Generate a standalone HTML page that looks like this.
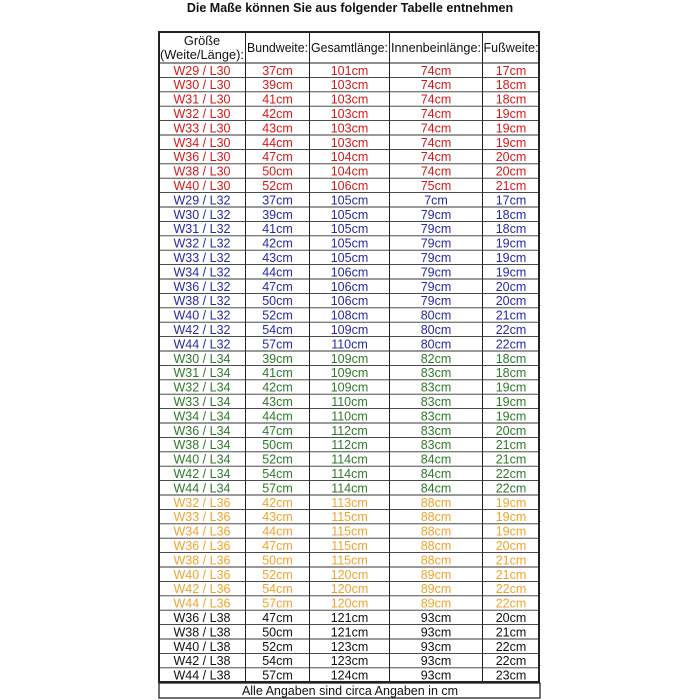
<!DOCTYPE html>
<html><head><meta charset="utf-8"><style>
html,body{margin:0;padding:0;background:#fff;width:700px;height:700px;overflow:hidden}
svg{display:block}
text{font-family:"Liberation Sans",Arial,sans-serif;font-size:12.5px;text-anchor:middle}
.h text{font-size:12.8px}
.r{fill:#d81818}.b{fill:#2828a8}.g{fill:#2f7a2a}.o{fill:#f0a42c}.k{fill:#111}
</style></head><body>
<svg width="700" height="700" viewBox="0 0 700 700" xmlns="http://www.w3.org/2000/svg">
<text x="350" y="12" style="font-weight:bold;font-size:12.5px" class="k">Die Maße können Sie aus folgender Tabelle entnehmen</text>
<g stroke="#222" stroke-width="1">
<line x1="159" y1="63" x2="539" y2="63"/>
<line x1="245.5" y1="32" x2="245.5" y2="682"/>
<line x1="309.5" y1="32" x2="309.5" y2="682"/>
<line x1="389.5" y1="32" x2="389.5" y2="682"/>
<line x1="482.5" y1="32" x2="482.5" y2="682"/>
</g>
<g stroke="#333" stroke-width="0.9">
<line x1="159" y1="77.4" x2="539" y2="77.4"/><line x1="159" y1="91.8" x2="539" y2="91.8"/><line x1="159" y1="106.2" x2="539" y2="106.2"/><line x1="159" y1="120.6" x2="539" y2="120.6"/><line x1="159" y1="135" x2="539" y2="135"/><line x1="159" y1="149.4" x2="539" y2="149.4"/><line x1="159" y1="163.8" x2="539" y2="163.8"/><line x1="159" y1="178.2" x2="539" y2="178.2"/><line x1="159" y1="192.6" x2="539" y2="192.6"/><line x1="159" y1="207" x2="539" y2="207"/><line x1="159" y1="221.4" x2="539" y2="221.4"/><line x1="159" y1="235.8" x2="539" y2="235.8"/><line x1="159" y1="250.2" x2="539" y2="250.2"/><line x1="159" y1="264.6" x2="539" y2="264.6"/><line x1="159" y1="279" x2="539" y2="279"/><line x1="159" y1="293.4" x2="539" y2="293.4"/><line x1="159" y1="307.8" x2="539" y2="307.8"/><line x1="159" y1="322.2" x2="539" y2="322.2"/><line x1="159" y1="336.6" x2="539" y2="336.6"/><line x1="159" y1="351" x2="539" y2="351"/><line x1="159" y1="365.4" x2="539" y2="365.4"/><line x1="159" y1="379.8" x2="539" y2="379.8"/><line x1="159" y1="394.2" x2="539" y2="394.2"/><line x1="159" y1="408.6" x2="539" y2="408.6"/><line x1="159" y1="423" x2="539" y2="423"/><line x1="159" y1="437.4" x2="539" y2="437.4"/><line x1="159" y1="451.8" x2="539" y2="451.8"/><line x1="159" y1="466.2" x2="539" y2="466.2"/><line x1="159" y1="480.6" x2="539" y2="480.6"/><line x1="159" y1="495" x2="539" y2="495"/><line x1="159" y1="509.4" x2="539" y2="509.4"/><line x1="159" y1="523.8" x2="539" y2="523.8"/><line x1="159" y1="538.2" x2="539" y2="538.2"/><line x1="159" y1="552.6" x2="539" y2="552.6"/><line x1="159" y1="567" x2="539" y2="567"/><line x1="159" y1="581.4" x2="539" y2="581.4"/><line x1="159" y1="595.8" x2="539" y2="595.8"/><line x1="159" y1="610.2" x2="539" y2="610.2"/><line x1="159" y1="624.6" x2="539" y2="624.6"/><line x1="159" y1="639" x2="539" y2="639"/><line x1="159" y1="653.4" x2="539" y2="653.4"/><line x1="159" y1="667.8" x2="539" y2="667.8"/>
</g>
<rect x="159" y="32" width="380" height="650" fill="none" stroke="#222" stroke-width="2"/>
<rect x="159" y="683" width="381" height="15" fill="none" stroke="#222" stroke-width="1.3"/>
<text x="350" y="695" class="k">Alle Angaben sind circa Angaben in cm</text>
<g class="k h">
<text x="202" y="45">Größe</text><text x="202" y="59" textLength="84" lengthAdjust="spacingAndGlyphs">(Weite/Länge):</text>
<text x="277.5" y="52" textLength="61" lengthAdjust="spacingAndGlyphs">Bundweite:</text><text x="349.5" y="52" textLength="77" lengthAdjust="spacingAndGlyphs">Gesamtlänge:</text><text x="436" y="52" textLength="90" lengthAdjust="spacingAndGlyphs">Innenbeinlänge:</text><text x="511" y="52" textLength="55" lengthAdjust="spacingAndGlyphs">Fußweite:</text>
</g>
<g class="r">
<text x="202" y="74.8">W29 / L30</text><text x="277.5" y="74.8">37cm</text><text x="349.5" y="74.8">101cm</text><text x="436" y="74.8">74cm</text><text x="511" y="74.8">17cm</text>
<text x="202" y="89.2">W30 / L30</text><text x="277.5" y="89.2">39cm</text><text x="349.5" y="89.2">103cm</text><text x="436" y="89.2">74cm</text><text x="511" y="89.2">18cm</text>
<text x="202" y="103.6">W31 / L30</text><text x="277.5" y="103.6">41cm</text><text x="349.5" y="103.6">103cm</text><text x="436" y="103.6">74cm</text><text x="511" y="103.6">18cm</text>
<text x="202" y="118">W32 / L30</text><text x="277.5" y="118">42cm</text><text x="349.5" y="118">103cm</text><text x="436" y="118">74cm</text><text x="511" y="118">19cm</text>
<text x="202" y="132.4">W33 / L30</text><text x="277.5" y="132.4">43cm</text><text x="349.5" y="132.4">103cm</text><text x="436" y="132.4">74cm</text><text x="511" y="132.4">19cm</text>
<text x="202" y="146.8">W34 / L30</text><text x="277.5" y="146.8">44cm</text><text x="349.5" y="146.8">103cm</text><text x="436" y="146.8">74cm</text><text x="511" y="146.8">19cm</text>
<text x="202" y="161.2">W36 / L30</text><text x="277.5" y="161.2">47cm</text><text x="349.5" y="161.2">104cm</text><text x="436" y="161.2">74cm</text><text x="511" y="161.2">20cm</text>
<text x="202" y="175.6">W38 / L30</text><text x="277.5" y="175.6">50cm</text><text x="349.5" y="175.6">104cm</text><text x="436" y="175.6">74cm</text><text x="511" y="175.6">20cm</text>
<text x="202" y="190">W40 / L30</text><text x="277.5" y="190">52cm</text><text x="349.5" y="190">106cm</text><text x="436" y="190">75cm</text><text x="511" y="190">21cm</text>
</g>
<g class="b">
<text x="202" y="204.4">W29 / L32</text><text x="277.5" y="204.4">37cm</text><text x="349.5" y="204.4">105cm</text><text x="436" y="204.4">7cm</text><text x="511" y="204.4">17cm</text>
<text x="202" y="218.8">W30 / L32</text><text x="277.5" y="218.8">39cm</text><text x="349.5" y="218.8">105cm</text><text x="436" y="218.8">79cm</text><text x="511" y="218.8">18cm</text>
<text x="202" y="233.2">W31 / L32</text><text x="277.5" y="233.2">41cm</text><text x="349.5" y="233.2">105cm</text><text x="436" y="233.2">79cm</text><text x="511" y="233.2">18cm</text>
<text x="202" y="247.6">W32 / L32</text><text x="277.5" y="247.6">42cm</text><text x="349.5" y="247.6">105cm</text><text x="436" y="247.6">79cm</text><text x="511" y="247.6">19cm</text>
<text x="202" y="262">W33 / L32</text><text x="277.5" y="262">43cm</text><text x="349.5" y="262">105cm</text><text x="436" y="262">79cm</text><text x="511" y="262">19cm</text>
<text x="202" y="276.4">W34 / L32</text><text x="277.5" y="276.4">44cm</text><text x="349.5" y="276.4">106cm</text><text x="436" y="276.4">79cm</text><text x="511" y="276.4">19cm</text>
<text x="202" y="290.8">W36 / L32</text><text x="277.5" y="290.8">47cm</text><text x="349.5" y="290.8">106cm</text><text x="436" y="290.8">79cm</text><text x="511" y="290.8">20cm</text>
<text x="202" y="305.2">W38 / L32</text><text x="277.5" y="305.2">50cm</text><text x="349.5" y="305.2">106cm</text><text x="436" y="305.2">79cm</text><text x="511" y="305.2">20cm</text>
<text x="202" y="319.6">W40 / L32</text><text x="277.5" y="319.6">52cm</text><text x="349.5" y="319.6">108cm</text><text x="436" y="319.6">80cm</text><text x="511" y="319.6">21cm</text>
<text x="202" y="334">W42 / L32</text><text x="277.5" y="334">54cm</text><text x="349.5" y="334">109cm</text><text x="436" y="334">80cm</text><text x="511" y="334">22cm</text>
<text x="202" y="348.4">W44 / L32</text><text x="277.5" y="348.4">57cm</text><text x="349.5" y="348.4">110cm</text><text x="436" y="348.4">80cm</text><text x="511" y="348.4">22cm</text>
</g>
<g class="g">
<text x="202" y="362.8">W30 / L34</text><text x="277.5" y="362.8">39cm</text><text x="349.5" y="362.8">109cm</text><text x="436" y="362.8">82cm</text><text x="511" y="362.8">18cm</text>
<text x="202" y="377.2">W31 / L34</text><text x="277.5" y="377.2">41cm</text><text x="349.5" y="377.2">109cm</text><text x="436" y="377.2">83cm</text><text x="511" y="377.2">18cm</text>
<text x="202" y="391.6">W32 / L34</text><text x="277.5" y="391.6">42cm</text><text x="349.5" y="391.6">109cm</text><text x="436" y="391.6">83cm</text><text x="511" y="391.6">19cm</text>
<text x="202" y="406">W33 / L34</text><text x="277.5" y="406">43cm</text><text x="349.5" y="406">110cm</text><text x="436" y="406">83cm</text><text x="511" y="406">19cm</text>
<text x="202" y="420.4">W34 / L34</text><text x="277.5" y="420.4">44cm</text><text x="349.5" y="420.4">110cm</text><text x="436" y="420.4">83cm</text><text x="511" y="420.4">19cm</text>
<text x="202" y="434.8">W36 / L34</text><text x="277.5" y="434.8">47cm</text><text x="349.5" y="434.8">112cm</text><text x="436" y="434.8">83cm</text><text x="511" y="434.8">20cm</text>
<text x="202" y="449.2">W38 / L34</text><text x="277.5" y="449.2">50cm</text><text x="349.5" y="449.2">112cm</text><text x="436" y="449.2">83cm</text><text x="511" y="449.2">21cm</text>
<text x="202" y="463.6">W40 / L34</text><text x="277.5" y="463.6">52cm</text><text x="349.5" y="463.6">114cm</text><text x="436" y="463.6">84cm</text><text x="511" y="463.6">21cm</text>
<text x="202" y="478">W42 / L34</text><text x="277.5" y="478">54cm</text><text x="349.5" y="478">114cm</text><text x="436" y="478">84cm</text><text x="511" y="478">22cm</text>
<text x="202" y="492.4">W44 / L34</text><text x="277.5" y="492.4">57cm</text><text x="349.5" y="492.4">114cm</text><text x="436" y="492.4">84cm</text><text x="511" y="492.4">22cm</text>
</g>
<g class="o">
<text x="202" y="506.8">W32 / L36</text><text x="277.5" y="506.8">42cm</text><text x="349.5" y="506.8">113cm</text><text x="436" y="506.8">88cm</text><text x="511" y="506.8">19cm</text>
<text x="202" y="521.2">W33 / L36</text><text x="277.5" y="521.2">43cm</text><text x="349.5" y="521.2">115cm</text><text x="436" y="521.2">88cm</text><text x="511" y="521.2">19cm</text>
<text x="202" y="535.6">W34 / L36</text><text x="277.5" y="535.6">44cm</text><text x="349.5" y="535.6">115cm</text><text x="436" y="535.6">88cm</text><text x="511" y="535.6">19cm</text>
<text x="202" y="550">W36 / L36</text><text x="277.5" y="550">47cm</text><text x="349.5" y="550">115cm</text><text x="436" y="550">88cm</text><text x="511" y="550">20cm</text>
<text x="202" y="564.4">W38 / L36</text><text x="277.5" y="564.4">50cm</text><text x="349.5" y="564.4">115cm</text><text x="436" y="564.4">88cm</text><text x="511" y="564.4">21cm</text>
<text x="202" y="578.8">W40 / L36</text><text x="277.5" y="578.8">52cm</text><text x="349.5" y="578.8">120cm</text><text x="436" y="578.8">89cm</text><text x="511" y="578.8">21cm</text>
<text x="202" y="593.2">W42 / L36</text><text x="277.5" y="593.2">54cm</text><text x="349.5" y="593.2">120cm</text><text x="436" y="593.2">89cm</text><text x="511" y="593.2">22cm</text>
<text x="202" y="607.6">W44 / L36</text><text x="277.5" y="607.6">57cm</text><text x="349.5" y="607.6">120cm</text><text x="436" y="607.6">89cm</text><text x="511" y="607.6">22cm</text>
</g>
<g class="k">
<text x="202" y="622">W36 / L38</text><text x="277.5" y="622">47cm</text><text x="349.5" y="622">121cm</text><text x="436" y="622">93cm</text><text x="511" y="622">20cm</text>
<text x="202" y="636.4">W38 / L38</text><text x="277.5" y="636.4">50cm</text><text x="349.5" y="636.4">121cm</text><text x="436" y="636.4">93cm</text><text x="511" y="636.4">21cm</text>
<text x="202" y="650.8">W40 / L38</text><text x="277.5" y="650.8">52cm</text><text x="349.5" y="650.8">123cm</text><text x="436" y="650.8">93cm</text><text x="511" y="650.8">22cm</text>
<text x="202" y="665.2">W42 / L38</text><text x="277.5" y="665.2">54cm</text><text x="349.5" y="665.2">123cm</text><text x="436" y="665.2">93cm</text><text x="511" y="665.2">22cm</text>
<text x="202" y="679.6">W44 / L38</text><text x="277.5" y="679.6">57cm</text><text x="349.5" y="679.6">124cm</text><text x="436" y="679.6">93cm</text><text x="511" y="679.6">23cm</text>
</g>
</svg>
</body></html>
